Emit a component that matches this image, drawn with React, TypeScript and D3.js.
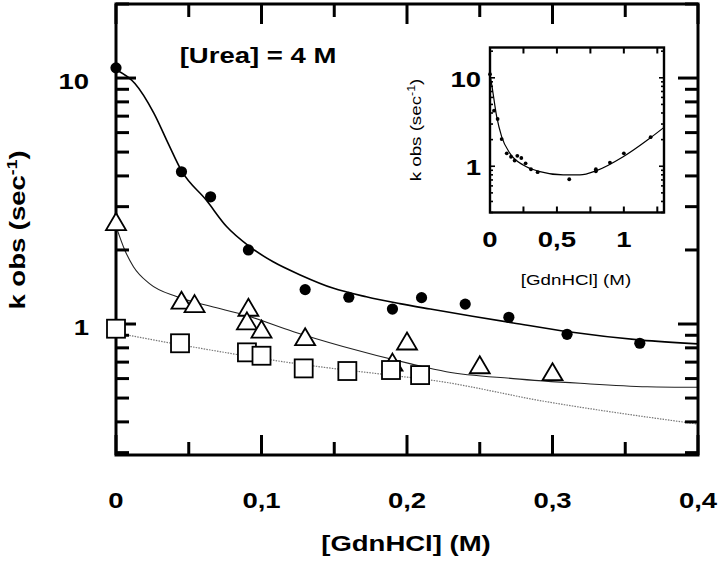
import React from 'react';
import * as d3 from 'd3';

// ---- data ----
const circleX = [0, 0.045, 0.065, 0.091, 0.13, 0.16, 0.19, 0.21, 0.24, 0.27, 0.31, 0.36];
const circleY = [11.0, 4.16, 3.29, 2.0, 1.38, 1.285, 1.15, 1.28, 1.205, 1.065, 0.908, 0.835];

const triX = [0, 0.045, 0.054, 0.091, 0.19, 0.09, 0.1, 0.13, 0.2, 0.25, 0.3];
const triY = [2.61, 1.25, 1.21, 1.17, 0.70, 1.03, 0.954, 0.888, 0.853, 0.683, 0.64];

const sqX = [0, 0.044, 0.09, 0.1, 0.129, 0.159, 0.189, 0.209];
const sqY = [0.957, 0.835, 0.767, 0.743, 0.66, 0.644, 0.65, 0.62];

const fitAX = [0, 0.013, 0.026, 0.036, 0.045, 0.062, 0.076, 0.092, 0.108, 0.127, 0.149, 0.172, 0.195, 0.216, 0.245, 0.273, 0.311, 0.361, 0.4];
const fitAY = [10.8, 9.5, 7.2, 5.4, 4.2, 3.19, 2.49, 2.06, 1.79, 1.58, 1.40, 1.29, 1.21, 1.15, 1.075, 1.01, 0.93, 0.86, 0.83];

const fitBX = [0, 0.006, 0.012, 0.023, 0.042, 0.065, 0.088, 0.122, 0.156, 0.202, 0.227, 0.273, 0.319, 0.365, 0.4];
const fitBY = [2.5, 2.0, 1.71, 1.46, 1.29, 1.18, 1.09, 0.93, 0.81, 0.69, 0.64, 0.60, 0.574, 0.556, 0.553];

const fitCX = [0, 0.051, 0.124, 0.198, 0.216, 0.296, 0.4];
const fitCY = [0.92, 0.81, 0.69, 0.61, 0.592, 0.483, 0.392];

const insetX = [0, 0.03, 0.057, 0.087, 0.125, 0.157, 0.184, 0.204, 0.234, 0.266, 0.306, 0.356, 0.592, 0.791, 0.791, 0.896, 1.0, 1.2];
const insetY = [11.0, 4.25, 3.42, 2.03, 1.40, 1.28, 1.16, 1.31, 1.24, 1.08, 0.925, 0.856, 0.713, 0.925, 0.878, 1.10, 1.40, 2.13];

const insetFitX = [0, 0.015, 0.05, 0.087, 0.149, 0.248, 0.373, 0.547, 0.672, 0.796, 0.995, 1.194, 1.3];
const insetFitY = [11.0, 8.0, 3.63, 2.16, 1.40, 1.03, 0.869, 0.797, 0.797, 0.892, 1.28, 2.07, 2.75];

const mainXTicks = [0, 0.1, 0.2, 0.3, 0.4];
const mainYLabels = [1, 10];
const insetXTicks = [0, 0.5, 1];
const insetYLabels = [1, 10];

const annotation = '[Urea] = 4 M';
const xTitle = '[GdnHCl] (M)';
const yTitle = 'k obs (sec';

// ---- layout ----
const W = 720, H = 563;
const FONT = "'Liberation Sans', Arial, Helvetica, sans-serif";
const SX = 1.25;

const locale = d3.formatLocale({ decimal: ',', thousands: '.', grouping: [3], currency: ['', ''] });
const fmt = locale.format('.1~f');

function T({ x, y, rot = 0, anchor = 'middle', size = 22, weight = 'bold', children }: any) {
  return (
    <text
      transform={`translate(${x},${y}) rotate(${rot}) scale(${SX},1)`}
      textAnchor={anchor}
      fontSize={size}
      fontWeight={weight}
      fontFamily={FONT}
      fill="#000"
    >
      {children}
    </text>
  );
}

export default function App() {
  const x = d3.scaleLinear().domain([0, 0.4]).range([116, 698]);
  const y = d3.scaleLog().domain([0.2934, 20]).range([455, 4]);
  const xi = d3.scaleLinear().domain([0, 1.3]).range([490, 664]);
  const yi = d3.scaleLog().domain([0.3, 22]).range([212.5, 47.5]);

  const [x0, x1] = x.range();
  const [yb, yt] = y.range();
  const [xi0, xi1] = xi.range();
  const [yib, yit] = yi.range();

  const line = (sx: any, sy: any) =>
    d3.line<[number, number]>().x(d => sx(d[0])).y(d => sy(d[1])).curve(d3.curveMonotoneX);

  const pts = (xs: number[], ys: number[]) => xs.map((v, i) => [v, ys[i]] as [number, number]);

  const xTicks = x.ticks(8);
  const yTicks = y.ticks();
  const isMajX = (v: number) => Math.abs(v * 10 - Math.round(v * 10)) < 1e-6;
  const isMajY = (v: number) => v === 1 || v === 10;

  const xiTicks = d3.range(0.25, 1.3, 0.25);
  const yiTicks = yi.ticks();

  return (
    <svg width={W} height={H} style={{ position: 'absolute', left: 0, top: 0, background: '#fff' }}>
      <rect x={0} y={0} width={W} height={H} fill="#fff" />

      {/* fit curves */}
      <path d={line(x, y)(pts(fitCX, fitCY)) as string} fill="none" stroke="#777" strokeWidth={1.2} strokeDasharray="1.5,1.2" />
      <path d={line(x, y)(pts(fitBX, fitBY)) as string} fill="none" stroke="#222" strokeWidth={1.1} />
      <path d={line(x, y)(pts(fitAX, fitAY)) as string} fill="none" stroke="#000" strokeWidth={1.6} />

      {/* main frame */}
      <rect x={x0} y={yt} width={x1 - x0} height={yb - yt} fill="none" stroke="#000" strokeWidth={3} />

      {/* x ticks (bottom & top) */}
      {xTicks.map((v, i) => {
        const L = isMajX(v) ? 20 : 13;
        return (
          <g key={'xt' + i} stroke="#000" strokeWidth={3}>
            <line x1={x(v)} x2={x(v)} y1={yb} y2={yb - L} />
            <line x1={x(v)} x2={x(v)} y1={yt} y2={yt + L} />
          </g>
        );
      })}
      {/* y ticks (left & right) */}
      {yTicks.map((v, i) => {
        const L = isMajY(v) ? 20 : 13;
        return (
          <g key={'yt' + i} stroke="#000" strokeWidth={3}>
            <line x1={x0} x2={x0 + L} y1={y(v)} y2={y(v)} />
            <line x1={x1} x2={x1 - L} y1={y(v)} y2={y(v)} />
          </g>
        );
      })}

      {/* tick labels */}
      {mainXTicks.map((v, i) => (
        <T key={'xl' + i} x={x(v)} y={508}>{fmt(v)}</T>
      ))}
      {mainYLabels.map((v, i) => (
        <T key={'yl' + i} x={89} y={y(v) + 11} anchor="end">{String(v)}</T>
      ))}

      {/* titles */}
      <T x={406} y={551}>{xTitle}</T>
      <T x={25} y={230} rot={-90}>
        {yTitle}
        <tspan dy={-8} fontSize={14}>-1</tspan>
        <tspan dy={8}>)</tspan>
      </T>
      <T x={258} y={63}>{annotation}</T>

      {/* markers */}
      {circleX.map((v, i) => (
        <circle key={'c' + i} cx={x(v)} cy={y(circleY[i])} r={5.6} fill="#000" />
      ))}
      {triX.map((v, i) => {
        const cx = x(v), cy = y(triY[i]);
        return (
          <path key={'t' + i} d={`M${cx},${cy - 8.5}L${cx + 10},${cy + 8.5}L${cx - 10},${cy + 8.5}Z`}
            fill="#fff" stroke="#000" strokeWidth={1.8} strokeLinejoin="miter" />
        );
      })}
      {sqX.map((v, i) => (
        <rect key={'s' + i} x={x(v) - 9} y={y(sqY[i]) - 9} width={18} height={18} fill="#fff" stroke="#000" strokeWidth={1.8} />
      ))}

      {/* inset */}
      <rect x={xi0} y={yit} width={xi1 - xi0} height={yib - yit} fill="#fff" stroke="none" />
      <path d={line(xi, yi)(pts(insetFitX, insetFitY)) as string} fill="none" stroke="#000" strokeWidth={1.2} />
      {insetX.map((v, i) => (
        <circle key={'ic' + i} cx={xi(v)} cy={yi(insetY[i])} r={1.9} fill="#000" />
      ))}
      <rect x={xi0} y={yit} width={xi1 - xi0} height={yib - yit} fill="none" stroke="#000" strokeWidth={2.4} />
      {xiTicks.map((v, i) => (
        <g key={'ixt' + i} stroke="#000" strokeWidth={2}>
          <line x1={xi(v)} x2={xi(v)} y1={yib} y2={yib - 6} />
          <line x1={xi(v)} x2={xi(v)} y1={yit} y2={yit + 6} />
        </g>
      ))}
      {yiTicks.map((v, i) => {
        const L = isMajY(v) ? 5 : 3;
        return (
          <g key={'iyt' + i} stroke="#000" strokeWidth={1.6}>
            <line x1={xi0} x2={xi0 + L} y1={yi(v)} y2={yi(v)} />
            <line x1={xi1} x2={xi1 - L} y1={yi(v)} y2={yi(v)} />
          </g>
        );
      })}
      {insetXTicks.map((v, i) => (
        <T key={'ixl' + i} x={xi(v)} y={247}>{fmt(v)}</T>
      ))}
      {insetYLabels.map((v, i) => (
        <T key={'iyl' + i} x={481} y={yi(v) + 9} anchor="end">{String(v)}</T>
      ))}
      <T x={576} y={285} size={15} weight="normal">{xTitle}</T>
      <T x={421} y={130} rot={-90} size={15} weight="normal">
        {yTitle}
        <tspan dy={-6} fontSize={10}>-1</tspan>
        <tspan dy={6}>)</tspan>
      </T>
    </svg>
  );
}
